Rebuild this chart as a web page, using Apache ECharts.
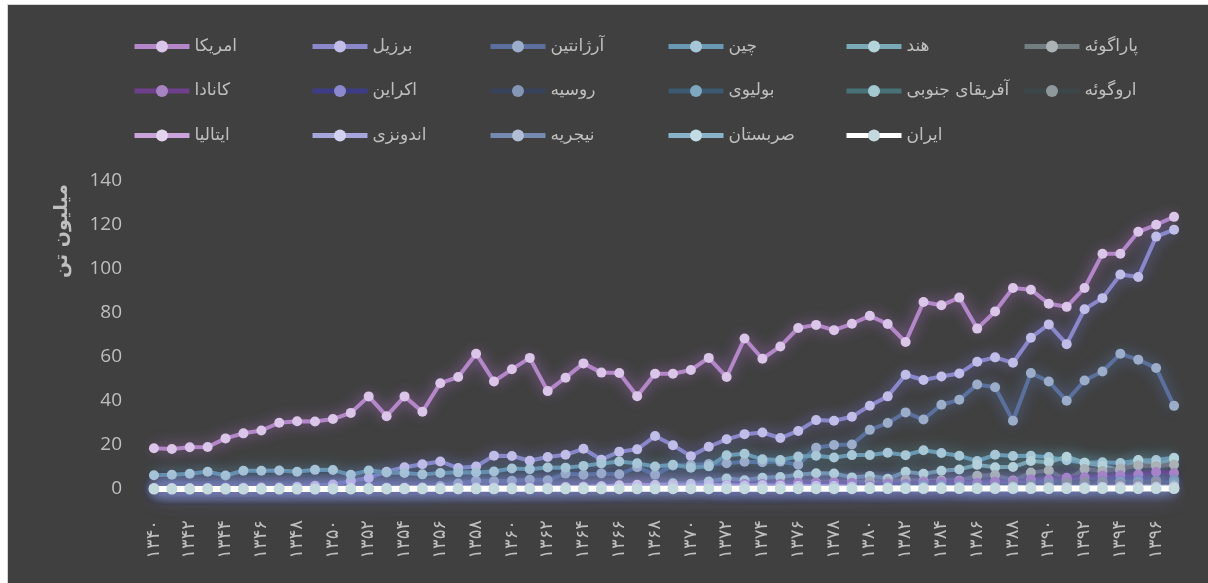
<!DOCTYPE html>
<html>
<head>
<meta charset="utf-8">
<script src="https://cdn.jsdelivr.net/npm/echarts@6/dist/echarts.min.js"></script>
<style>
html,body{margin:0;padding:0;background:#ffffff;}
#frame{position:absolute;left:7px;top:4px;width:1201px;height:579px;background:#404040;border-left:1px solid #d4d4d4;border-top:1px solid #d4d4d4;}
#chart{position:absolute;left:-8px;top:-5px;width:1208px;height:583px;}
</style>
</head>
<body>
<div id="frame"><div id="chart"></div></div>
<script>
const years = ['۱۳۴۰','۱۳۴۱','۱۳۴۲','۱۳۴۳','۱۳۴۴','۱۳۴۵','۱۳۴۶','۱۳۴۷','۱۳۴۸','۱۳۴۹',
 '۱۳۵۰','۱۳۵۱','۱۳۵۲','۱۳۵۳','۱۳۵۴','۱۳۵۵','۱۳۵۶','۱۳۵۷','۱۳۵۸','۱۳۵۹',
 '۱۳۶۰','۱۳۶۱','۱۳۶۲','۱۳۶۳','۱۳۶۴','۱۳۶۵','۱۳۶۶','۱۳۶۷','۱۳۶۸','۱۳۶۹',
 '۱۳۷۰','۱۳۷۱','۱۳۷۲','۱۳۷۳','۱۳۷۴','۱۳۷۵','۱۳۷۶','۱۳۷۷','۱۳۷۸','۱۳۷۹',
 '۱۳۸۰','۱۳۸۱','۱۳۸۲','۱۳۸۳','۱۳۸۴','۱۳۸۵','۱۳۸۶','۱۳۸۷','۱۳۸۸','۱۳۸۹',
 '۱۳۹۰','۱۳۹۱','۱۳۹۲','۱۳۹۳','۱۳۹۴','۱۳۹۵','۱۳۹۶','۱۳۹۷'];

const yTicks = { min: 0, max: 140, step: 20 };
const yTitle = 'میلیون تن';

const usa = [18.5,18.2,19.0,19.1,23.0,25.3,26.6,30.1,30.8,30.7,
 31.8,34.6,42.1,33.1,42.1,35.1,48.1,50.9,61.5,48.9,
 54.4,59.6,44.5,50.6,57.1,52.9,52.7,42.2,52.4,52.4,
 54.1,59.6,50.9,68.4,59.2,64.8,73.2,74.6,72.2,75.1,
 78.7,75.0,66.8,85.0,83.5,87.0,72.9,80.7,91.4,90.6,
 84.2,82.8,91.4,106.9,106.9,116.9,120.1,123.7];
const brazil = [0.27,0.35,0.32,0.30,0.52,0.59,0.72,0.65,1.06,1.51,
 2.08,3.67,5.01,7.88,9.89,11.23,12.51,9.54,10.24,15.16,
 15.01,12.84,14.58,15.54,18.28,13.33,16.98,18.02,24.07,19.90,
 14.94,19.21,22.59,24.93,25.68,23.17,26.39,31.31,30.99,32.82,
 37.88,42.11,51.92,49.55,51.18,52.46,57.86,59.83,57.35,68.76,
 74.82,65.85,81.72,86.76,97.46,96.39,114.73,117.89];
const argentina = [0.001,0.002,0.017,0.014,0.017,0.018,0.02,0.022,0.032,0.027,
 0.059,0.078,0.27,0.50,0.49,0.70,1.4,2.5,3.7,3.5,
 3.77,4.15,4.0,7.0,6.5,7.1,6.7,9.9,6.5,10.7,
 10.86,11.31,11.72,12.4,12.13,12.45,11.0,18.72,20.0,20.2,
 26.88,30.0,34.82,31.58,38.3,40.54,47.48,46.24,30.99,52.68,
 48.88,40.1,49.31,53.4,61.45,58.8,54.97,37.79];
const china = [6.21,6.51,6.91,7.87,6.14,8.27,8.28,8.40,7.85,8.70,
 8.61,6.45,8.37,7.47,7.24,6.65,7.26,7.57,7.46,7.94,
 9.33,9.03,9.76,9.70,10.51,11.61,12.47,11.65,10.23,11.00,
 9.71,10.30,15.31,16.00,13.50,13.22,14.73,15.15,14.29,15.41,
 15.41,16.51,15.39,17.60,16.35,15.08,12.73,15.54,14.98,15.08,
 14.49,13.05,11.95,12.16,11.79,12.94,13.15,14.19];
const india = [0.01,0.01,0.01,0.01,0.01,0.01,0.01,0.01,0.02,0.01,
 0.03,0.07,0.07,0.09,0.09,0.1,0.17,0.2,0.28,0.44,
 0.36,0.49,0.61,0.79,1.02,0.95,0.90,1.55,1.81,2.60,
 2.39,3.39,4.75,3.93,5.10,5.40,6.46,7.14,7.08,5.28,
 5.96,4.65,7.82,6.88,8.27,8.85,10.97,9.91,9.96,12.74,
 12.21,14.67,11.95,10.53,8.57,13.16,10.98,13.79];
const paraguay = [0.003,0.004,0.01,0.01,0.01,0.02,0.03,0.05,0.05,0.08,
 0.12,0.12,0.19,0.22,0.22,0.28,0.38,0.54,0.57,0.54,
 0.60,0.73,0.85,0.92,0.98,1.10,0.98,1.14,1.43,1.80,
 1.33,1.32,1.80,1.87,2.21,2.40,2.77,2.99,3.05,2.98,
 3.50,3.30,4.20,3.58,3.99,3.80,6.00,6.31,3.86,7.46,
 8.37,4.04,9.09,8.19,9.22,10.67,10.48,11.05];
const canada = [0.18,0.21,0.16,0.19,0.24,0.24,0.22,0.26,0.21,0.28,
 0.28,0.38,0.40,0.28,0.37,0.25,0.54,0.52,0.67,0.69,
 0.61,0.84,0.71,0.94,1.01,0.96,1.27,1.16,1.22,1.26,
 1.46,1.45,1.85,2.25,2.29,2.17,2.74,2.74,2.78,2.70,
 1.64,2.34,2.27,3.04,3.16,3.47,2.70,3.34,3.50,4.35,
 4.30,5.09,5.36,6.05,6.24,6.60,7.72,7.27];
const ukraine = [null,null,null,null,null,null,null,null,null,null,
 null,null,null,null,null,null,null,null,null,null,
 null,null,null,null,null,null,null,null,null,null,
 null,0.07,0.07,0.04,0.02,0.02,0.02,0.02,0.03,0.06,
 0.07,0.12,0.23,0.36,0.61,0.89,0.72,0.81,1.04,1.68,
 2.26,2.41,2.77,3.88,3.93,4.28,3.90,4.46];
const russia = [null,null,null,null,null,null,null,null,null,null,
 null,null,null,null,null,null,null,null,null,null,
 null,null,null,null,null,null,null,null,null,null,
 null,0.50,0.50,0.42,0.29,0.29,0.29,0.33,0.33,0.34,
 0.35,0.42,0.39,0.55,0.69,0.81,0.65,0.75,0.94,1.22,
 1.76,1.81,1.64,2.36,2.71,3.14,3.62,4.03];
const bolivia = [0.001,0.001,0.001,0.001,0.001,0.001,0.001,0.001,0.001,0.001,
 0.002,0.003,0.01,0.01,0.02,0.04,0.05,0.05,0.06,0.05,
 0.08,0.05,0.05,0.08,0.1,0.16,0.24,0.26,0.31,0.23,
 0.38,0.38,0.53,0.80,0.89,0.87,1.04,1.03,0.80,1.20,
 1.16,1.30,1.55,1.67,1.69,1.55,1.26,1.24,1.72,1.92,
 2.45,2.40,2.42,2.83,3.20,3.20,2.94,2.94];
const southAfrica = [0.003,0.003,0.003,0.003,0.003,0.003,0.003,0.003,0.003,0.003,
 0.01,0.01,0.01,0.01,0.01,0.01,0.01,0.01,0.01,0.01,
 0.03,0.03,0.03,0.03,0.05,0.05,0.08,0.11,0.10,0.05,
 0.07,0.06,0.06,0.07,0.06,0.08,0.12,0.20,0.17,0.15,
 0.22,0.14,0.22,0.27,0.27,0.42,0.21,0.28,0.52,0.57,
 0.71,0.65,0.78,0.95,1.06,0.74,1.32,1.54];
const uruguay = [0.001,0.002,0.002,0.003,0.003,0.004,0.005,0.005,0.01,0.01,
 0.02,0.02,0.03,0.04,0.05,0.05,0.04,0.03,0.03,0.04,
 0.03,0.02,0.02,0.02,0.02,0.02,0.02,0.02,0.02,0.03,
 0.03,0.02,0.02,0.01,0.01,0.01,0.01,0.01,0.01,0.01,
 0.03,0.07,0.18,0.38,0.48,0.63,0.78,1.03,1.82,1.82,
 1.54,2.70,3.16,3.10,2.31,2.21,3.21,1.33];
const italy = [0,0,0,0,0,0,0,0,0,0,
 0,0,0,0,0,0,0,0,0.001,0.05,
 0.09,0.18,0.27,0.52,0.60,1.00,1.68,1.97,1.67,1.75,
 1.58,1.35,0.95,0.95,0.71,0.95,1.09,1.25,1.12,0.90,
 0.92,0.56,0.41,0.45,0.55,0.56,0.41,0.48,0.42,0.55,
 0.47,0.38,0.57,0.91,1.12,1.09,1.02,1.14];
const indonesia = [0.43,0.40,0.36,0.39,0.35,0.36,0.42,0.42,0.39,0.50,
 0.52,0.52,0.54,0.59,0.59,0.52,0.52,0.62,0.68,0.65,
 0.70,0.52,0.54,0.77,0.87,1.23,1.16,1.27,1.32,1.49,
 1.56,1.87,1.71,1.56,1.68,1.52,1.36,1.31,1.38,1.02,
 0.83,0.67,0.67,0.72,0.81,0.75,0.59,0.78,0.97,0.91,
 0.85,0.84,0.78,0.95,0.96,0.86,0.54,0.65];
const nigeria = [0.02,0.02,0.02,0.02,0.03,0.03,0.03,0.03,0.04,0.06,
 0.06,0.05,0.06,0.07,0.07,0.06,0.06,0.06,0.07,0.08,
 0.07,0.06,0.06,0.06,0.06,0.07,0.07,0.10,0.12,0.15,
 0.18,0.22,0.26,0.32,0.38,0.39,0.40,0.40,0.40,0.44,
 0.44,0.44,0.48,0.49,0.58,0.60,0.61,0.59,0.59,0.37,
 0.39,0.45,0.60,0.58,0.59,0.68,0.73,0.76];
const serbia = [null,null,null,null,null,null,null,null,null,null,
 null,null,null,null,null,null,null,null,null,null,
 null,null,null,null,null,null,null,null,null,null,
 null,null,null,null,null,null,null,null,null,null,
 null,null,null,null,null,0.35,0.32,0.35,0.35,0.54,
 0.45,0.28,0.40,0.55,0.36,0.55,0.45,0.65];
const iran = [0,0,0,0,0,0,0,0,0,0,
 0.01,0.02,0.04,0.05,0.07,0.08,0.10,0.10,0.10,0.08,
 0.07,0.08,0.09,0.10,0.10,0.11,0.13,0.11,0.11,0.13,
 0.14,0.15,0.14,0.15,0.12,0.12,0.14,0.16,0.17,0.17,
 0.18,0.19,0.19,0.20,0.22,0.21,0.20,0.19,0.18,0.22,
 0.22,0.19,0.18,0.20,0.18,0.21,0.18,0.18];

const names = ['امریکا','برزیل','آرژانتین','چین','هند','پاراگوئه',
 'کانادا','اکراین','روسیه','بولیوی','آفریقای جنوبی','اروگوئه',
 'ایتالیا','اندونزی','نیجریه','صربستان','ایران'];
const values = [usa,brazil,argentina,china,india,paraguay,
 canada,ukraine,russia,bolivia,southAfrica,uruguay,
 italy,indonesia,nigeria,serbia,iran];
const lineColors = ['#b487c9','#8a87ca','#5b709d','#6a99b3','#7aa9b8','#737e82',
 '#6e3f8b','#3e3c86','#39425d','#3b5a6f','#477378','#3c4749',
 '#c9a3d9','#a7a6dc','#7689b0','#89b3c9','#ffffff'];
const markerColors = ['#dbc5e8','#c1bde9','#9badc9','#a8c7d6','#b5d3da','#abb3b6',
 '#a984c5','#8c89cc','#8496b6','#7fa7bf','#a3c8cf','#8f999b',
 '#e3d3ef','#d2d1f0','#b2bed6','#c3dbe5','#c4d9de'];
const glowColors = ['rgba(170,110,200,0.9)','rgba(120,115,215,0.85)','rgba(90,120,185,0.85)','rgba(90,160,190,0.8)','rgba(100,175,195,0.8)','rgba(120,135,140,0.6)',
 'rgba(130,80,170,0.8)','rgba(90,90,190,0.8)','rgba(80,100,150,0.7)','rgba(70,120,150,0.7)','rgba(70,140,150,0.7)','rgba(80,95,100,0.6)',
 'rgba(190,140,215,0.8)','rgba(150,150,225,0.8)','rgba(110,130,190,0.8)','rgba(120,170,205,0.8)','rgba(125,125,215,1)'];

const chart = echarts.init(document.getElementById('chart'));

const legends = names.map((n, i) => ({
  data: [n],
  left: 127 + (i % 6) * 178,
  top: 33 + Math.floor(i / 6) * 44.5,
  itemWidth: 55,
  itemHeight: 15,
  itemGap: 5,
  lineStyle: { width: 5, color: lineColors[i], shadowBlur: 0 },
  itemStyle: { color: markerColors[i], shadowBlur: 0 },
  textStyle: { color: '#bfbfbf', fontSize: 17, fontFamily: 'DejaVu Sans' }
}));

const series = names.map((n, i) => ({
  name: n,
  type: 'line',
  data: values[i],
  z: i === 16 ? 5 : 2,
  symbol: 'circle',
  symbolSize: i === 16 ? 11 : 10,
  showAllSymbol: true,
  connectNulls: false,
  clip: false,
  lineStyle: { color: lineColors[i], width: i === 16 ? 6 : 4, shadowBlur: i === 16 ? 22 : 14, shadowColor: glowColors[i] },
  itemStyle: { color: markerColors[i], borderWidth: 0 },
  emphasis: { disabled: true }
}));

chart.setOption({
  backgroundColor: 'transparent',
  animation: false,
  legend: legends,
  grid: { left: 145, right: 25, top: 181, bottom: 94 },
  xAxis: {
    type: 'category',
    data: years,
    boundaryGap: true,
    axisLine: { show: false },
    axisTick: { show: false },
    axisLabel: { interval: 1, rotate: 90, margin: 31, color: '#bfbfbf', fontSize: 18, fontFamily: 'DejaVu Sans' }
  },
  yAxis: {
    type: 'value',
    min: yTicks.min, max: yTicks.max, interval: yTicks.step,
    axisLine: { show: false },
    axisTick: { show: false },
    splitLine: { show: false },
    axisLabel: { color: '#bfbfbf', fontSize: 19, margin: 23, fontFamily: 'Open Sans' }
  },
  graphic: [{
    type: 'text',
    x: 62, y: 231,
    rotation: Math.PI / 2,
    style: { text: yTitle, fill: '#bfbfbf', font: 'bold 19px "DejaVu Sans"', align: 'center', verticalAlign: 'middle' }
  }],
  series: series
});
</script>
</body>
</html>
